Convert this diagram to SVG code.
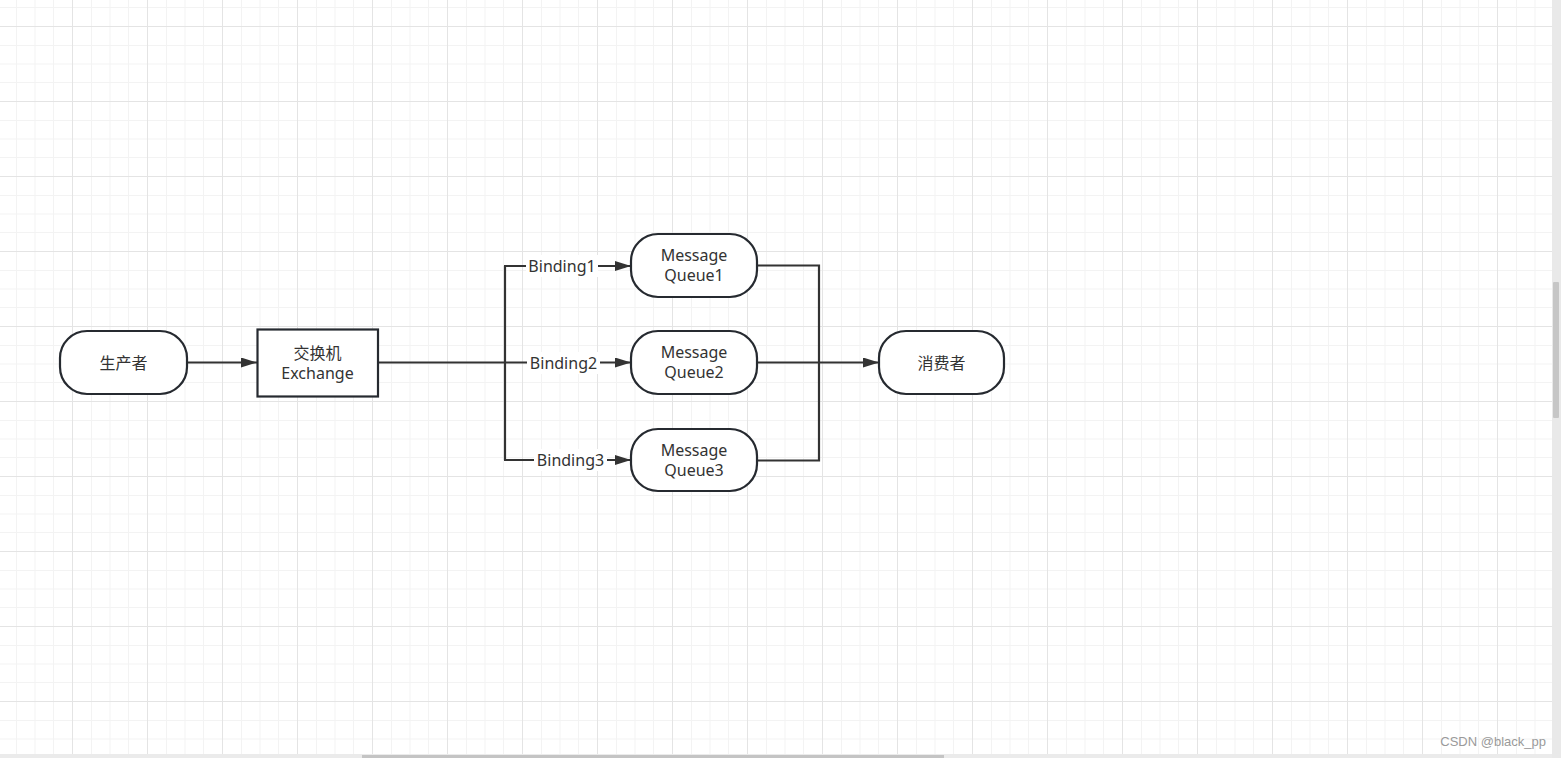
<svg xmlns="http://www.w3.org/2000/svg" width="1561" height="758" viewBox="0 0 1561 758">
  <defs>
    <pattern id="grid" patternUnits="userSpaceOnUse" x="72" y="26" width="75" height="75">
      <rect x="0" y="0" width="75" height="75" fill="#ffffff"/>
      <rect x="19" y="0" width="1" height="75" fill="#f3f3f3"/>
      <rect x="37.5" y="0" width="1" height="75" fill="#f3f3f3"/>
      <rect x="56" y="0" width="1" height="75" fill="#f3f3f3"/>
      <rect x="0" y="19" width="75" height="1" fill="#f3f3f3"/>
      <rect x="0" y="37.5" width="75" height="1" fill="#f3f3f3"/>
      <rect x="0" y="56" width="75" height="1" fill="#f3f3f3"/>
      <rect x="0" y="0" width="1" height="75" fill="#e4e4e4"/>
      <rect x="0" y="0" width="75" height="1" fill="#e4e4e4"/>
    </pattern>
    <marker id="arrow" viewBox="0 0 16 10" refX="16" refY="5" markerWidth="16" markerHeight="10" markerUnits="userSpaceOnUse" orient="auto">
      <path d="M0,0 L16,5 L0,10 Z" fill="#333333"/>
    </marker>
    <style>
      .node { fill: #ffffff; stroke: #262a30; stroke-width: 2.2; }
      .lbl { font-family: "Noto Sans", "Noto Sans CJK SC", sans-serif; font-size: 16px; fill: #333333; text-anchor: middle; }
      .edge { fill: none; stroke: #333333; stroke-width: 2.2; }
      .bg { fill: #ffffff; }
    </style>
  </defs>

  <rect x="0" y="0" width="1561" height="758" fill="url(#grid)"/>
  <!-- scrollbars -->
  <rect x="1552" y="0" width="9" height="758" fill="#e9e9e9"/>
  <rect x="1553" y="282" width="6" height="136" rx="1" fill="#c6c6c6"/>
  <rect x="0" y="754" width="1552" height="4" fill="#ebebeb"/>
  <rect x="362" y="755" width="582" height="3" fill="#c4c4c4"/>

  <g id="connectors">
    <line class="edge" x1="187" y1="362.5" x2="257" y2="362.5" marker-end="url(#arrow)"/>
    <polyline class="edge" points="378,362.5 505,362.5"/>
    <polyline class="edge" points="505,266 505,460"/>
    <line class="edge" x1="504" y1="266" x2="631" y2="266" marker-end="url(#arrow)"/>
    <line class="edge" x1="505" y1="362.5" x2="631" y2="362.5" marker-end="url(#arrow)"/>
    <line class="edge" x1="504" y1="460" x2="631" y2="460" marker-end="url(#arrow)"/>
    <rect class="bg" x="526" y="255" width="72" height="22"/>
    <text class="lbl" x="562" y="271.5">Binding1</text>
    <rect class="bg" x="527" y="352" width="73" height="22"/>
    <text class="lbl" x="563.5" y="368.5">Binding2</text>
    <rect class="bg" x="534" y="449" width="73" height="22"/>
    <text class="lbl" x="570.5" y="465.5">Binding3</text>
    <polyline class="edge" points="757,265.5 819,265.5 819,460.5 757,460.5"/>
    <line class="edge" x1="757" y1="362.5" x2="879" y2="362.5" marker-end="url(#arrow)"/>
  </g>

  <g id="producer">
    <rect class="node" x="60" y="331" width="127" height="63" rx="27" ry="27"/>
    <text class="lbl" x="123.5" y="368.5">生产者</text>
  </g>
  <g id="exchange">
    <rect class="node" x="257.5" y="329.5" width="120.5" height="67"/>
    <text class="lbl" x="317.5" y="358.5">交换机</text>
    <text class="lbl" x="317.5" y="378.5">Exchange</text>
  </g>
  <g id="queue1">
    <rect class="node" x="631" y="234" width="126" height="63" rx="27" ry="27"/>
    <text class="lbl" x="694" y="261">Message</text>
    <text class="lbl" x="694" y="281">Queue1</text>
  </g>
  <g id="queue2">
    <rect class="node" x="631" y="331" width="126" height="63" rx="27" ry="27"/>
    <text class="lbl" x="694" y="358">Message</text>
    <text class="lbl" x="694" y="378">Queue2</text>
  </g>
  <g id="queue3">
    <rect class="node" x="631" y="429" width="126" height="62" rx="27" ry="27"/>
    <text class="lbl" x="694" y="456">Message</text>
    <text class="lbl" x="694" y="476">Queue3</text>
  </g>
  <g id="consumer">
    <rect class="node" x="879" y="331" width="125" height="63" rx="27" ry="27"/>
    <text class="lbl" x="941.5" y="368.5">消费者</text>
  </g>

  <text x="1546" y="746" font-family="Liberation Sans, Arial, sans-serif" font-size="13px" fill="#9a9a9a" text-anchor="end">CSDN @black_pp</text>
</svg>
